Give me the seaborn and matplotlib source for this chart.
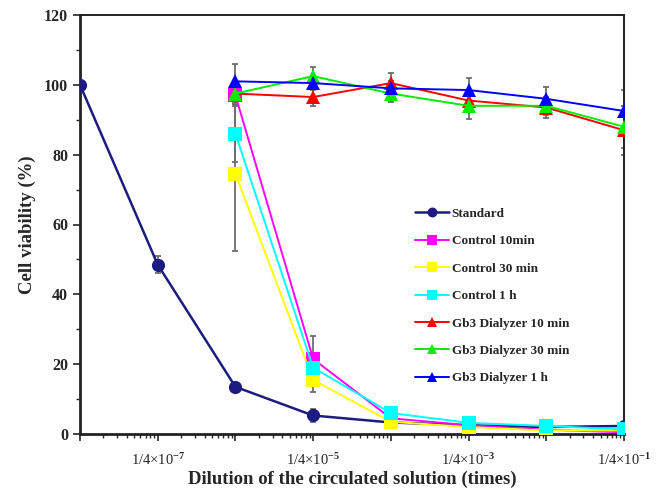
import numpy as np
import pandas as pd
import matplotlib
matplotlib.use("Agg")
import matplotlib.pyplot as plt
import matplotlib.ticker as mticker
import seaborn as sns

# ---- data ----
dilutions = [0.25e-8, 0.25e-7, 0.25e-6, 0.25e-5, 0.25e-4, 0.25e-3, 0.25e-2, 0.25e-1]
series_names = ["Standard", "Control 10min", "Control 30 min", "Control 1 h",
                "Gb3 Dialyzer 10 min", "Gb3 Dialyzer 30 min", "Gb3 Dialyzer 1 h"]

standard = [100, 48.5, 13.5, 5.3, 3.3, 2.5, 2.0, 2.3]
standard_err = [0, 2.5, 1.0, 2.0, 0.5, 0.5, 0.5, 0.5]
control_10 = [97, 21.5, 4.5, 2.5, 1.2, 0.5]
control_10_err = [2, 6.5, 1.0, 0.5, 0.5, 0.5]
control_30 = [74.5, 15.5, 3.5, 2.0, 1.0, 1.0]
control_30_err = [22, 3.5, 1.0, 0.5, 0.5, 0.5]
control_1h = [86, 19, 6, 3.2, 2.3, 1.3]
control_1h_err = [8, 4, 1.0, 0.5, 0.5, 0.5]
gb3_10 = [97.5, 96.5, 100.5, 95.5, 93.5, 87]
gb3_10_err = [3, 2.5, 3, 3, 3, 7]
gb3_30 = [97.5, 102.5, 97.5, 94, 94, 88]
gb3_30_err = [3, 2.5, 2.5, 3.7, 2.5, 6]
gb3_1h = [101, 100.5, 99, 98.5, 96, 92.5]
gb3_1h_err = [5, 2, 2, 3.5, 3.5, 6]

xtick_labels = ["1/4×10$^{-7}$", "1/4×10$^{-5}$", "1/4×10$^{-3}$", "1/4×10$^{-1}$"]

all_vals = [standard, control_10, control_30, control_1h, gb3_10, gb3_30, gb3_1h]
all_errs = [standard_err, control_10_err, control_30_err, control_1h_err,
            gb3_10_err, gb3_30_err, gb3_1h_err]

rows = []
for name, vals, errs in zip(series_names, all_vals, all_errs):
    xs = dilutions[-len(vals):]
    for x, v, e in zip(xs, vals, errs):
        rows.append({"dilution": x, "viability": v, "err": e, "series": name})
df = pd.DataFrame(rows)

# ---- style ----
sns.set_theme(style="white")
plt.rcParams["font.family"] = ["Liberation Serif", "DejaVu Serif"]
plt.rcParams["font.weight"] = "bold"
plt.rcParams["mathtext.fontset"] = "custom"
plt.rcParams["mathtext.rm"] = "Liberation Serif"
plt.rcParams["mathtext.it"] = "Liberation Serif:italic"
plt.rcParams["mathtext.bf"] = "Liberation Serif:bold"

palette = {"Standard": "#1c1c80", "Control 10min": "#ff00ff", "Control 30 min": "#ffff00",
           "Control 1 h": "#00ffff", "Gb3 Dialyzer 10 min": "#ff0000",
           "Gb3 Dialyzer 30 min": "#00ee00", "Gb3 Dialyzer 1 h": "#0000ff"}
markers = {"Standard": "o", "Control 10min": "s", "Control 30 min": "s", "Control 1 h": "s",
           "Gb3 Dialyzer 10 min": "^", "Gb3 Dialyzer 30 min": "^", "Gb3 Dialyzer 1 h": "^"}

fig = plt.figure(figsize=(6.58, 4.96), dpi=100)
ax = fig.add_axes([80/658, 1-434/496, 544/658, 419/496])

# error bars
for name in series_names:
    sub = df[df.series == name]
    ax.errorbar(sub.dilution, sub.viability, yerr=sub.err, fmt="none",
                ecolor="#6e6e6e", elinewidth=1.3, capsize=2.5, capthick=1.3, zorder=1.5)

sns.lineplot(data=df, x="dilution", y="viability", hue="series", style="series",
             hue_order=series_names, style_order=series_names,
             palette=palette, markers=markers, dashes=False, linewidth=1.4,
             markersize=9.5, markeredgewidth=0, ax=ax, legend="full", zorder=3)

for line in ax.get_lines():
    if line.get_color() == "#1c1c80":
        line.set_linewidth(1.8)

ax.set_xscale("log")
ax.set_xlim(0.25e-8, 0.25e-1)
ax.set_ylim(0, 120)

major = [0.25 * 10.0**k for k in range(-8, 0)]
ax.xaxis.set_major_locator(mticker.FixedLocator(major))
labels = []
for k in range(-8, 0):
    labels.append(xtick_labels[(k + 7) // 2] if (k % 2 == 1) else "")
ax.xaxis.set_major_formatter(mticker.FixedFormatter(labels))
minor = [0.25 * m * 10.0**k for k in range(-8, -1) for m in range(2, 10)]
ax.xaxis.set_minor_locator(mticker.FixedLocator(minor))
ax.xaxis.set_minor_formatter(mticker.NullFormatter())

ax.yaxis.set_major_locator(mticker.MultipleLocator(20))
ax.yaxis.set_minor_locator(mticker.MultipleLocator(10))
ax.yaxis.set_minor_formatter(mticker.NullFormatter())

ax.tick_params(axis="x", which="major", direction="out", length=5, width=1.2,
               labelsize=10.5, pad=8, bottom=True)
ax.tick_params(axis="x", which="minor", direction="out", length=3, width=1.0, bottom=True)
ax.tick_params(axis="y", which="major", direction="out", length=5, width=1.2,
               labelsize=11.5, left=True)
ax.tick_params(axis="y", which="minor", direction="out", length=3, width=1.0, left=True)
for lab in ax.get_xticklabels():
    lab.set_fontweight("normal")

for s in ax.spines.values():
    s.set_color("#222222")
    s.set_linewidth(1.4)
ax.spines["bottom"].set_linewidth(2.0)
ax.spines["left"].set_linewidth(2.0)

ax.set_xlabel("Dilution of the circulated solution (times)", fontsize=13.5, fontweight="bold",
              labelpad=2)
ax.set_ylabel("Cell viability (%)", fontsize=13.5, fontweight="bold", labelpad=6)

handles, labs = ax.get_legend_handles_labels()
leg = ax.legend(handles, labs, loc="upper left", bbox_to_anchor=(0.615, 0.54),
                frameon=False, labelspacing=1.15, handlelength=2.6,
                handletextpad=0.2, borderaxespad=0, borderpad=0, markerscale=0.75,
                prop={"weight": "bold", "size": 9.5})

fig.savefig("out.png", dpi=100)
